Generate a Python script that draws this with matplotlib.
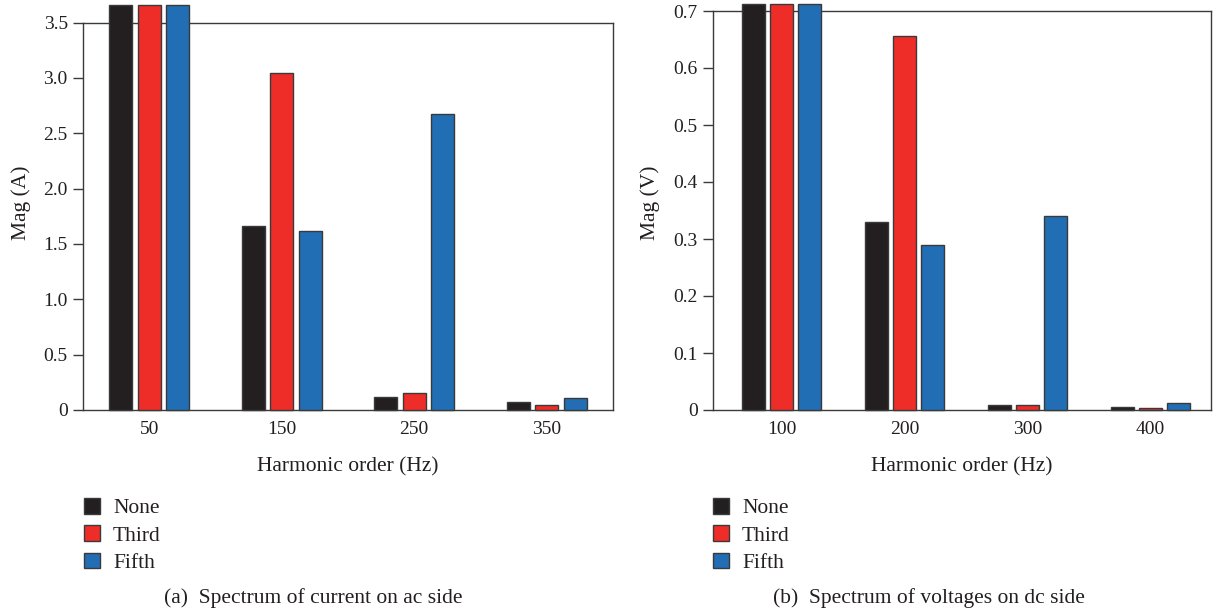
import matplotlib
matplotlib.use("Agg")
import matplotlib.pyplot as plt
from matplotlib.patches import Patch
import numpy as np

plt.rcParams['font.family'] = ['Liberation Serif', 'DejaVu Serif']

series = ['None', 'Third', 'Fifth']
colors = ['#231f20', '#ee2d29', '#226eb4']

# (a) current on ac side
freq_a = ['50', '150', '250', '350']
none_a = [3.66, 1.66, 0.12, 0.07]
third_a = [3.66, 3.04, 0.155, 0.045]
fifth_a = [3.66, 1.62, 2.67, 0.105]
yticks_a = [0, 0.5, 1.0, 1.5, 2.0, 2.5, 3.0, 3.5]
yticklabels_a = ['0', '0.5', '1.0', '1.5', '2.0', '2.5', '3.0', '3.5']

# (b) voltages on dc side
freq_b = ['100', '200', '300', '400']
none_b = [0.713, 0.329, 0.009, 0.005]
third_b = [0.713, 0.656, 0.009, 0.004]
fifth_b = [0.713, 0.289, 0.34, 0.012]
yticks_b = [0, 0.1, 0.2, 0.3, 0.4, 0.5, 0.6, 0.7]
yticklabels_b = ['0', '0.1', '0.2', '0.3', '0.4', '0.5', '0.6', '0.7']

fig = plt.figure(figsize=(12.15, 6.12), dpi=100)
ax1 = fig.add_axes([83/1215, 1-410/612, (613-83)/1215, (410-22.5)/612])
ax2 = fig.add_axes([713/1215, 1-410/612, (1211-713)/1215, (410-11)/612])

TFS = 14
FS = 15.5
edge = '#3a3a3a'
txt = '#231f20'

def draw(ax, cats, vals, yt, ytl, ylim, xlim, width, pitch, ylabel, ylab_y, ylab_x):
    x = np.arange(len(cats))
    for i, (v, c) in enumerate(zip(vals, colors)):
        ax.bar(x + (i - 1) * pitch, v, width, color=c, edgecolor=edge,
               linewidth=1.0, clip_on=False, zorder=3)
    ax.set_xlim(*xlim)
    ax.set_ylim(*ylim)
    ax.set_xticks(x)
    ax.set_xticklabels(cats, fontsize=TFS, color=txt)
    ax.set_yticks(yt)
    ax.set_yticklabels(ytl, fontsize=TFS, color=txt)
    ax.tick_params(axis='x', length=0, pad=8)
    ax.tick_params(axis='y', length=7, width=1, color=edge, pad=4)
    for s in ax.spines.values():
        s.set_color(edge)
        s.set_linewidth(1.0)
        s.set_zorder(2)
    ax.set_xlabel('Harmonic order (Hz)', fontsize=FS, color=txt, labelpad=14)
    ax.set_ylabel(ylabel, fontsize=FS, color=txt)
    ax.yaxis.set_label_coords(ylab_x, ylab_y)

draw(ax1, freq_a, [none_a, third_a, fifth_a], yticks_a, yticklabels_a,
     (0, 3.5), (-0.5, 3.5), 0.175, 0.216, 'Mag (A)', 0.536, -0.098)
draw(ax2, freq_b, [none_b, third_b, fifth_b], yticks_b, yticklabels_b,
     (0, 0.7), (-0.56, 3.49), 0.187, 0.228, 'Mag (V)', 0.52, -0.106)

handles = [Patch(facecolor=c, edgecolor=edge, linewidth=1.0) for c in colors]
for lx in (84/1215, 713/1215):
    fig.legend(handles, series, loc='upper left', bbox_to_anchor=(lx, 1-498/612),
               frameon=False, fontsize=FS, handlelength=0.75, handleheight=0.75,
               handletextpad=0.6, labelspacing=0.32, borderpad=0, borderaxespad=0,
               labelcolor=txt)

fig.text(313/1215, 1-598/612, '(a)  Spectrum of current on ac side', fontsize=FS,
         ha='center', va='center', color=txt)
fig.text(929/1215, 1-598/612, '(b)  Spectrum of voltages on dc side', fontsize=FS,
         ha='center', va='center', color=txt)

fig.savefig('out.png', dpi=100)
